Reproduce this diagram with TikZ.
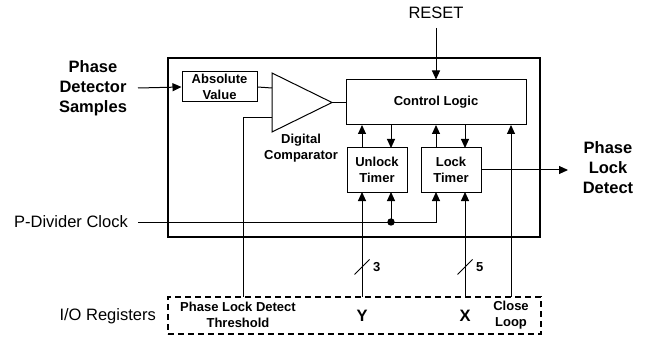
\documentclass[tikz,border=0pt]{standalone}
\usepackage{fontspec}
\setmainfont{Liberation Sans}
\usetikzlibrary{arrows.meta}
\begin{document}
\begin{tikzpicture}[x=1pt,y=-1pt,
  box/.style={draw,line width=1pt,inner sep=0pt,align=center,font=\bfseries\fontsize{13}{15.5}\selectfont},
  big/.style={inner sep=0pt,align=center,font=\bfseries\fontsize{16.5}{20}\selectfont},
  plain/.style={inner sep=0pt,align=center,font=\fontsize{16.5}{20}\selectfont},
  small/.style={inner sep=0pt,align=center,font=\bfseries\fontsize{13}{15.5}\selectfont},
  wire/.style={line width=1pt},
  arr/.style={line width=1pt,-{Triangle[length=9pt,width=8pt]}}]
\useasboundingbox (0,0) rectangle (647,339);
% main block
\node[draw,line width=2.8pt,minimum width=372pt,minimum height=179pt,inner sep=0pt] (main) at (354,147.5) {};
\node[draw,dash pattern=on 6pt off 4pt,line width=1.4pt,minimum width=373pt,minimum height=37pt,inner sep=0pt] (io) at (354.5,315.5) {};
% boxes
\node[box,minimum width=75pt,minimum height=30pt] (abs) at (219.5,87) {Absolute\\Value};
\node[box,minimum width=180pt,minimum height=45pt] (ctrl) at (436,102.5) {Control Logic};
\node[box,minimum width=60pt,minimum height=44pt] (unlock) at (377,170) {Unlock\\Timer};
\node[box,minimum width=60pt,minimum height=44pt] (lock) at (451,170) {Lock\\Timer};
% comparator triangle
\coordinate (tin1) at (272,88);
\coordinate (tin2) at (272,118);
\coordinate (tout) at (332,102.5);
\draw[wire] (272,73) -- (tout) -- (272,132) -- cycle;
% labels
\node[big] (pds) at (93,88) {Phase\\Detector\\Samples};
\node[plain] (reset) at (436,13) {RESET};
\node[plain,anchor=east] (pdc) at (128,222) {P-Divider Clock};
\node[plain,anchor=east] (ior) at (156,316) {I/O Registers};
\node[big] (pld) at (608,168) {Phase\\Lock\\Detect};
\node[small] (dc) at (301,148) {Digital\\Comparator};
\node[small] (thr) at (238,315) {Phase Lock Detect\\Threshold};
\node[big] (yreg) at (362,316) {Y};
\node[big] (xreg) at (465,316) {X};
\node[small] (cl) at (511,315) {Close\\Loop};
\node[small,anchor=west] (n3) at (373,267) {3};
\node[small,anchor=west] (n5) at (476,267) {5};
% connectors
\coordinate (pdsout) at (138,88);
\draw[arr] (pdsout) -- (abs.west);
\draw[wire] (abs.east) -- (tin1);
\draw[wire] (tout) -- (ctrl.west |- tout);
\draw[arr] (reset.south |- 0,28) -- (ctrl.north);
\coordinate (thrtop) at (243,297);
\draw[wire] (tin2) -- (243,118) -- (thrtop);
% timers <-> control
\draw[arr] (362,148) -- (362,125);
\draw[arr] (391,125) -- (391,148);
\draw[arr] (436,148) -- (436,125);
\draw[arr] (465,125) -- (465,148);
% clock
\coordinate (clkin) at (138,222);
\coordinate (dot) at (391,222);
\draw[arr] (clkin) -- (436,222) -- (436,192);
\draw[arr] (dot) -- (391,192);
\fill (dot) circle (3.7pt);
% registers
\draw[arr] (362,297) -- (362,192);
\draw[arr] (465,297) -- (465,192);
\draw[arr] (511,297) -- (511,125);
\draw[wire] (354.5,274.5) -- (369.5,259.5);
\draw[wire] (457.5,274.5) -- (472.5,259.5);
% output
\coordinate (pldin) at (568,170);
\draw[arr] (lock.east) -- (pldin);
\end{tikzpicture}
\end{document}
